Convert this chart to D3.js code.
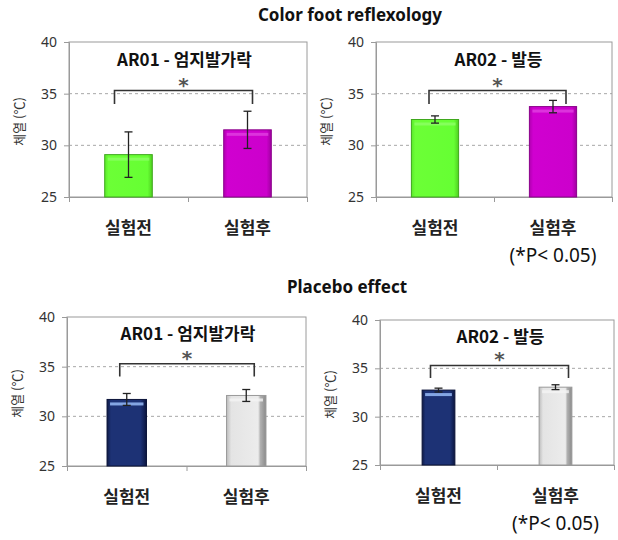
<!DOCTYPE html>
<html><head><meta charset="utf-8">
<script src="https://cdn.jsdelivr.net/npm/d3@7"></script>
<style>
body{margin:0;background:#fff;}
svg{display:block;font-family:"Noto Sans CJK KR","Noto Sans",sans-serif;}
</style></head>
<body>
<svg id="chart" width="618" height="540"></svg>
<script>
// ---- data ----
const categories = ["실험전", "실험후"];
const yTicks = [25, 30, 35, 40];
const gridValues = [30, 35];
const sectionTitles = ["Color foot reflexology", "Placebo effect"];
const panelTitles = ["AR01 - 엄지발가락", "AR02 - 발등", "AR01 - 엄지발가락", "AR02 - 발등"];
const colorAR01Mean = [29.1, 31.5];
const colorAR01Err  = [2.2, 1.8];
const colorAR02Mean = [32.5, 33.75];
const colorAR02Err  = [0.35, 0.6];
const placeboAR01Mean = [31.7, 32.1];
const placeboAR01Err  = [0.6, 0.6];
const placeboAR02Mean = [32.75, 33.05];
const placeboAR02Err  = [0.2, 0.25];
const yLabel = "체열 (℃)";
const noteText = "(*P< 0.05)";
const sigMark = "*";

// ---- layout / style ----
const svg = d3.select("#chart");
const defs = svg.append("defs");
function hGrad(id, stops){
  const g = defs.append("linearGradient").attr("id", id).attr("x1","0").attr("x2","1").attr("y1","0").attr("y2","0");
  stops.forEach(s => g.append("stop").attr("offset", s[0]).attr("stop-color", s[1]));
}
hGrad("gGreen", [[0,"#5ae82a"],[0.08,"#6cff36"],[0.9,"#66ff33"],[1,"#4fd020"]]);
hGrad("gMag", [[0,"#b000b0"],[0.08,"#d000d0"],[0.9,"#cc00cc"],[1,"#a000a0"]]);
hGrad("gNavy", [[0,"#0e1a48"],[0.1,"#1d3275"],[0.85,"#1d3275"],[1,"#0c1640"]]);
hGrad("gGray", [[0,"#bdbdbd"],[0.12,"#e4e4e4"],[0.8,"#ececec"],[0.86,"#b0b0b0"],[1,"#8a8a8a"]]);

const styles = {
  color: {fills:["url(#gGreen)","url(#gMag)"], strokes:["#3fa81d","#8a008a"], tops:["#8dff66","#e040e0"]},
  placebo: {fills:["url(#gNavy)","url(#gGray)"], strokes:["#0a1238","#9a9a9a"], tops:["#9fc3ff","#f4f4f4"]}
};

const panels = [
  {title: panelTitles[0], means: colorAR01Mean, errs: colorAR01Err, l:69, r:307, t:42, b:197, pad:0.6, st:styles.color, note:false, bx:[-14,5]},
  {title: panelTitles[1], means: colorAR02Mean, errs: colorAR02Err, l:376, r:612, t:42, b:197, pad:0.6, st:styles.color, note:true, bx:[-6,13]},
  {title: panelTitles[2], means: placeboAR01Mean, errs: placeboAR01Err, l:67, r:306, t:317, b:466, pad:0.67, st:styles.placebo, note:false, bx:[-7,8]},
  {title: panelTitles[3], means: placeboAR02Mean, errs: placeboAR02Err, l:380, r:614, t:320, b:465, pad:0.72, st:styles.placebo, note:true, bx:[-8,13]}
];

// section titles
svg.append("text").attr("x", 350).attr("y", 21).attr("text-anchor","middle")
  .attr("font-family","'Noto Sans','Open Sans',sans-serif").attr("font-weight","bold").attr("font-size",17).attr("fill","#111")
  .text(sectionTitles[0]);
svg.append("text").attr("x", 347).attr("y", 293).attr("text-anchor","middle")
  .attr("font-family","'Noto Sans','Open Sans',sans-serif").attr("font-weight","bold").attr("font-size",17).attr("fill","#111")
  .text(sectionTitles[1]);

panels.forEach(p => {
  const g = svg.append("g");
  const y = d3.scaleLinear().domain([25, 40]).range([p.b, p.t]);
  const x = d3.scaleBand().domain(categories).range([p.l, p.r]).paddingInner(p.pad).paddingOuter(p.pad/2);
  const xEdge = d3.scaleLinear().domain([0, categories.length]).range([p.l, p.r]);

  // grid
  g.selectAll(".grid").data(gridValues).join("line")
    .attr("x1", p.l).attr("x2", p.r).attr("y1", d => y(d)).attr("y2", d => y(d))
    .attr("stroke", "#a8a8a8").attr("stroke-dasharray", "3,3").attr("stroke-width", 1);

  // frame
  g.append("rect").attr("x", p.l).attr("y", p.t).attr("width", p.r - p.l).attr("height", p.b - p.t)
    .attr("fill","none").attr("stroke","#9a9a9a").attr("stroke-width",1);

  // y axis
  const ya = d3.axisLeft(y).tickValues(yTicks).tickSize(5).tickPadding(7).tickFormat(d3.format("d"));
  const yg = g.append("g").attr("transform", `translate(${p.l},0)`).call(ya);
  yg.select(".domain").attr("stroke","#9a9a9a");
  yg.selectAll(".tick line").attr("stroke","#9a9a9a");
  yg.selectAll(".tick text").attr("font-family","'Noto Sans','Open Sans',sans-serif").attr("font-size",14).attr("fill","#333");

  // x axis ticks at category edges
  const xa = d3.axisBottom(xEdge).tickValues(d3.range(categories.length + 1)).tickSize(5).tickFormat("");
  const xg = g.append("g").attr("transform", `translate(0,${p.b})`).call(xa);
  xg.select(".domain").attr("stroke","#9a9a9a");
  xg.selectAll(".tick line").attr("stroke","#9a9a9a");

  // category labels
  g.selectAll(".cat").data(categories).join("text")
    .attr("x", d => x(d) + x.bandwidth()/2).attr("y", p.b + 37).attr("text-anchor","middle")
    .attr("font-weight","bold").attr("font-size",17).attr("fill","#222").text(d => d);

  // bars
  const bars = categories.map((c, i) => ({c, v: p.means[i], e: p.errs[i], i}));
  g.selectAll(".bar").data(bars).join("rect")
    .attr("x", d => x(d.c)).attr("y", d => y(d.v)).attr("width", x.bandwidth()).attr("height", d => y(25) - y(d.v))
    .attr("fill", d => p.st.fills[d.i]).attr("stroke", d => p.st.strokes[d.i]).attr("stroke-width", 1);
  // top highlight strip
  g.selectAll(".hl").data(bars).join("rect")
    .attr("x", d => x(d.c) + 3).attr("y", d => y(d.v) + 3).attr("width", x.bandwidth() - 6).attr("height", 3)
    .attr("fill", d => p.st.tops[d.i]).attr("opacity", 0.8);

  // error bars
  const cap = 4;
  const eb = g.selectAll(".err").data(bars).join("g").attr("stroke","#222").attr("stroke-width",1.3);
  eb.append("line").attr("x1", d => x(d.c) + x.bandwidth()/2).attr("x2", d => x(d.c) + x.bandwidth()/2)
    .attr("y1", d => y(d.v + d.e)).attr("y2", d => y(d.v - d.e));
  eb.append("line").attr("x1", d => x(d.c) + x.bandwidth()/2 - cap).attr("x2", d => x(d.c) + x.bandwidth()/2 + cap)
    .attr("y1", d => y(d.v + d.e)).attr("y2", d => y(d.v + d.e));
  eb.append("line").attr("x1", d => x(d.c) + x.bandwidth()/2 - cap).attr("x2", d => x(d.c) + x.bandwidth()/2 + cap)
    .attr("y1", d => y(d.v - d.e)).attr("y2", d => y(d.v - d.e));

  // bracket
  const c0 = x(categories[0]) + x.bandwidth()/2 + p.bx[0];
  const c1 = x(categories[1]) + x.bandwidth()/2 + p.bx[1];
  g.append("path").attr("d", `M${c0},${y(34.0)}V${y(35.3)}H${c1}V${y(34.0)}`)
    .attr("fill","none").attr("stroke","#333").attr("stroke-width",1.6);
  g.append("text").attr("x", (c0 + c1)/2).attr("y", y(35.3) + 1).attr("text-anchor","middle")
    .attr("font-family","'DejaVu Sans',sans-serif").attr("font-weight","bold").attr("font-size",20).attr("fill","#555").text(sigMark);

  // panel title
  g.append("text").attr("x", (c0 + c1)/2 + 1).attr("y", y(37.65)).attr("text-anchor","middle")
    .attr("font-weight","bold").attr("font-size",17).attr("fill","#111").text(p.title);

  // y label
  const ly = (p.t + p.b)/2 + 2;
  g.append("text").attr("transform", `translate(${p.l - 45},${ly}) rotate(-90)`).attr("text-anchor","middle")
    .attr("font-size",13).attr("fill","#333").text(yLabel);

  if (p.note) {
    g.append("text").attr("x", x(categories[1]) + x.bandwidth()/2).attr("y", p.b + 65).attr("text-anchor","middle")
      .attr("font-family","'Noto Sans','Open Sans',sans-serif").attr("font-size",19).attr("fill","#111").text(noteText);
  }
});
</script>
</body></html>
